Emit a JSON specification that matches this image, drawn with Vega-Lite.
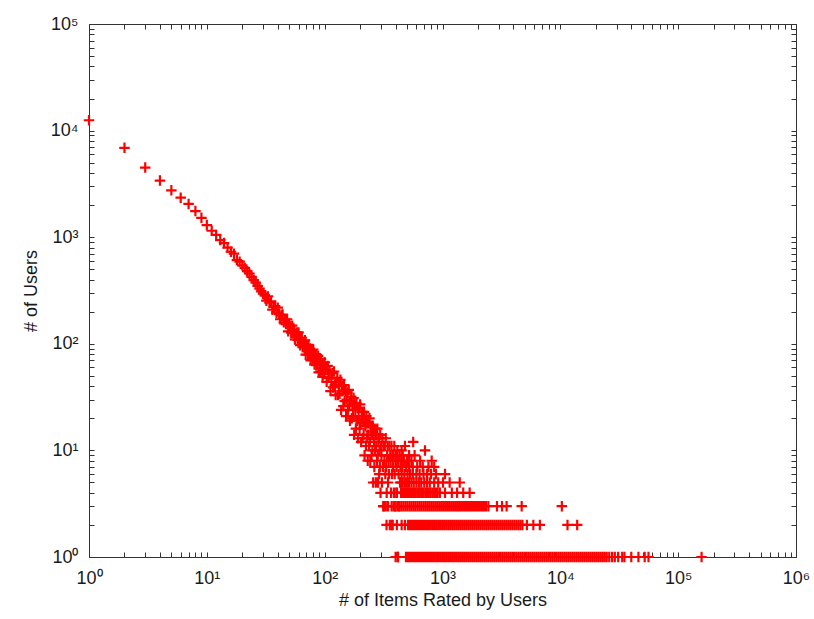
{
  "$schema": "https://vega.github.io/schema/vega-lite/v6.json",
  "width": 707,
  "height": 533,
  "autosize": {"type": "none"},
  "padding": {"left": 89, "top": 24, "right": 18, "bottom": 62},
  "background": "white",
  "config": {"view": {"stroke": null}, "font": "Liberation Sans"},
  "data": {"values": [
    {"x":1,"y":12500},{"x":2,"y":6900},{"x":3,"y":4500},{"x":4,"y":3400},{"x":5,"y":2750},{"x":6,"y":2350},{"x":7,"y":2050},{"x":8,"y":1760},{"x":9,"y":1520},{"x":10,"y":1300},
    {"x":11,"y":1150},{"x":12,"y":1050},{"x":13,"y":940},{"x":14,"y":880},{"x":15,"y":800},{"x":16,"y":730},{"x":17,"y":700},{"x":18,"y":610},{"x":19,"y":590},{"x":20,"y":545},
    {"x":21,"y":515},{"x":22,"y":480},{"x":23,"y":455},{"x":24,"y":425},{"x":25,"y":395},{"x":26,"y":375},{"x":27,"y":350},{"x":28,"y":330},{"x":29,"y":310},{"x":30,"y":295},
    {"x":31,"y":286},{"x":32,"y":254},{"x":33,"y":278},{"x":34,"y":243},{"x":35,"y":250},{"x":36,"y":209},{"x":37,"y":222},{"x":38,"y":226},{"x":39,"y":196},{"x":40,"y":218},
    {"x":41,"y":190},{"x":42,"y":170},{"x":43,"y":186},{"x":44,"y":188},{"x":45,"y":159},{"x":46,"y":168},{"x":47,"y":153},{"x":48,"y":170},{"x":49,"y":131},{"x":50,"y":154},
    {"x":51,"y":145},{"x":52,"y":127},{"x":53,"y":148},{"x":54,"y":127},{"x":55,"y":136},{"x":56,"y":110},{"x":57,"y":123},{"x":58,"y":128},{"x":59,"y":109},{"x":60,"y":128},
    {"x":61,"y":109},{"x":62,"y":97},{"x":63,"y":111},{"x":64,"y":114},{"x":65,"y":93},{"x":66,"y":103},{"x":67,"y":93},{"x":68,"y":108},{"x":69,"y":79},{"x":70,"y":98},
    {"x":71,"y":92},{"x":72,"y":79},{"x":73,"y":98},{"x":74,"y":82},{"x":75,"y":90},{"x":76,"y":70},{"x":77,"y":81},{"x":78,"y":87},{"x":79,"y":72},{"x":80,"y":88},
    {"x":81,"y":74},{"x":82,"y":64},{"x":83,"y":77},{"x":84,"y":80},{"x":85,"y":63},{"x":86,"y":72},{"x":87,"y":64},{"x":88,"y":77},{"x":89,"y":54},{"x":90,"y":70},
    {"x":91,"y":66},{"x":92,"y":55},{"x":93,"y":72},{"x":94,"y":59},{"x":95,"y":66},{"x":96,"y":49},{"x":97,"y":59},{"x":98,"y":64},{"x":99,"y":52},{"x":100,"y":67},
    {"x":102,"y":57},{"x":104,"y":44},{"x":106,"y":62},{"x":108,"y":48},{"x":110,"y":55},{"x":112,"y":36},{"x":114,"y":47},{"x":116,"y":53},{"x":118,"y":39},{"x":120,"y":55},
    {"x":122,"y":41},{"x":124,"y":33},{"x":126,"y":44},{"x":128,"y":48},{"x":130,"y":33},{"x":132,"y":41},{"x":134,"y":34},{"x":136,"y":46},{"x":138,"y":24},{"x":140,"y":40},
    {"x":142,"y":36},{"x":144,"y":26},{"x":146,"y":41},{"x":148,"y":29},{"x":150,"y":36},{"x":152,"y":21},{"x":154,"y":30},{"x":156,"y":35},{"x":158,"y":24},{"x":160,"y":37},
    {"x":162,"y":26},{"x":164,"y":19},{"x":166,"y":29},{"x":168,"y":32},{"x":170,"y":20},{"x":172,"y":27},{"x":174,"y":21},{"x":176,"y":31},{"x":178,"y":14},{"x":180,"y":27},
    {"x":182,"y":24},{"x":184,"y":16},{"x":186,"y":28},{"x":188,"y":19},{"x":190,"y":25},{"x":192,"y":13},{"x":194,"y":20},{"x":196,"y":25},{"x":198,"y":16},{"x":200,"y":27},
    {"x":202,"y":18},{"x":204,"y":12},{"x":206,"y":21},{"x":208,"y":23},{"x":210,"y":13},{"x":212,"y":19},{"x":214,"y":14},{"x":216,"y":23},{"x":218,"y":9},{"x":220,"y":19},
    {"x":222,"y":17},{"x":224,"y":11},{"x":226,"y":21},{"x":228,"y":13},{"x":230,"y":18},{"x":232,"y":8},{"x":234,"y":14},{"x":236,"y":18},{"x":238,"y":11},{"x":240,"y":20},
    {"x":242,"y":12},{"x":244,"y":8},{"x":246,"y":15},{"x":248,"y":17},{"x":250,"y":9},{"x":252,"y":14},{"x":254,"y":10},{"x":256,"y":17},{"x":258,"y":5},{"x":260,"y":14},
    {"x":262,"y":12},{"x":264,"y":7},{"x":266,"y":16},{"x":268,"y":10},{"x":270,"y":14},{"x":272,"y":5},{"x":274,"y":11},{"x":276,"y":14},{"x":278,"y":8},{"x":280,"y":16},
    {"x":282,"y":9},{"x":284,"y":5},{"x":286,"y":12},{"x":288,"y":13},{"x":290,"y":6},{"x":292,"y":10},{"x":294,"y":7},{"x":296,"y":14},{"x":298,"y":4},{"x":300,"y":11},
    {"x":303,"y":9},{"x":306,"y":5},{"x":309,"y":13},{"x":312,"y":7},{"x":315,"y":11},{"x":318,"y":3},{"x":321,"y":8},{"x":324,"y":11},{"x":327,"y":6},{"x":330,"y":13},
    {"x":333,"y":7},{"x":336,"y":4},{"x":339,"y":9},{"x":342,"y":11},{"x":345,"y":5},{"x":348,"y":8},{"x":351,"y":6},{"x":354,"y":11},{"x":357,"y":2},{"x":360,"y":9},
    {"x":363,"y":8},{"x":366,"y":4},{"x":369,"y":11},{"x":372,"y":6},{"x":375,"y":9},{"x":378,"y":2},{"x":381,"y":7},{"x":384,"y":9},{"x":387,"y":4},{"x":390,"y":11},
    {"x":393,"y":6},{"x":396,"y":3},{"x":399,"y":8},{"x":402,"y":9},{"x":405,"y":4},{"x":408,"y":7},{"x":411,"y":4},{"x":414,"y":10},{"x":417,"y":1},{"x":420,"y":8},
    {"x":424,"y":6},{"x":428,"y":3},{"x":432,"y":9},{"x":436,"y":5},{"x":440,"y":7},
    {"x":445,"y":4},{"x":455,"y":4},{"x":470,"y":4},{"x":480,"y":4},{"x":495,"y":4},{"x":510,"y":4},{"x":525,"y":4},{"x":540,"y":4},{"x":560,"y":4},{"x":575,"y":4},
    {"x":590,"y":4},{"x":610,"y":4},{"x":630,"y":4},{"x":650,"y":4},{"x":670,"y":4},{"x":690,"y":4},{"x":715,"y":4},{"x":740,"y":4},{"x":765,"y":4},{"x":790,"y":4},
    {"x":820,"y":4},{"x":850,"y":4},{"x":880,"y":4},{"x":910,"y":4},{"x":950,"y":4},{"x":1050,"y":4},{"x":1200,"y":4},{"x":1330,"y":4},{"x":1500,"y":4},{"x":1700,"y":4},
    {"x":445,"y":5},{"x":460,"y":5},{"x":480,"y":5},{"x":500,"y":5},{"x":520,"y":5},{"x":545,"y":5},{"x":570,"y":5},{"x":600,"y":5},{"x":630,"y":5},{"x":660,"y":5},
    {"x":700,"y":5},{"x":740,"y":5},{"x":780,"y":5},{"x":850,"y":5},{"x":920,"y":5},{"x":1010,"y":5},{"x":1150,"y":5},{"x":1400,"y":5},
    {"x":450,"y":6},{"x":475,"y":6},{"x":505,"y":6},{"x":530,"y":6},{"x":560,"y":6},{"x":600,"y":6},{"x":640,"y":6},{"x":690,"y":6},{"x":740,"y":6},{"x":800,"y":6},{"x":880,"y":6},{"x":1050,"y":6},
    {"x":455,"y":7},{"x":490,"y":7},{"x":520,"y":7},{"x":560,"y":7},{"x":610,"y":7},{"x":680,"y":7},{"x":760,"y":7},{"x":850,"y":7},
    {"x":447,"y":8},{"x":470,"y":8},{"x":500,"y":8},{"x":545,"y":8},{"x":646,"y":8},{"x":810,"y":8},
    {"x":460,"y":9},{"x":520,"y":9},{"x":580,"y":9},{"x":450,"y":10},{"x":710,"y":10},{"x":480,"y":11},{"x":564,"y":12},
    {"x":314,"y":3},{"x":330,"y":3},{"x":345,"y":3},
    {"x":370,"y":3},{"x":385,"y":3},{"x":400,"y":3},{"x":416,"y":3},{"x":433,"y":3},{"x":450,"y":3},{"x":468,"y":3},{"x":487,"y":3},{"x":506,"y":3},{"x":527,"y":3},
    {"x":548,"y":3},{"x":570,"y":3},{"x":592,"y":3},{"x":616,"y":3},{"x":641,"y":3},{"x":666,"y":3},{"x":693,"y":3},{"x":721,"y":3},{"x":750,"y":3},{"x":780,"y":3},
    {"x":811,"y":3},{"x":843,"y":3},{"x":877,"y":3},{"x":912,"y":3},{"x":949,"y":3},{"x":987,"y":3},{"x":1026,"y":3},{"x":1067,"y":3},{"x":1110,"y":3},{"x":1154,"y":3},
    {"x":1200,"y":3},{"x":1248,"y":3},{"x":1298,"y":3},{"x":1350,"y":3},{"x":1404,"y":3},{"x":1460,"y":3},{"x":1519,"y":3},{"x":1580,"y":3},{"x":1643,"y":3},{"x":1709,"y":3},
    {"x":1777,"y":3},{"x":1848,"y":3},{"x":1922,"y":3},{"x":1999,"y":3},{"x":2079,"y":3},{"x":2162,"y":3},{"x":2249,"y":3},{"x":2339,"y":3},
    {"x":2450,"y":3},{"x":2900,"y":3},{"x":3200,"y":3},{"x":3500,"y":3},{"x":4700,"y":3},{"x":10300,"y":3},
    {"x":335,"y":2},{"x":370,"y":2},{"x":410,"y":2},{"x":450,"y":2},{"x":480,"y":2},
    {"x":510,"y":2},{"x":530,"y":2},{"x":552,"y":2},{"x":574,"y":2},{"x":597,"y":2},{"x":621,"y":2},{"x":645,"y":2},{"x":671,"y":2},{"x":698,"y":2},{"x":726,"y":2},
    {"x":755,"y":2},{"x":785,"y":2},{"x":817,"y":2},{"x":849,"y":2},{"x":883,"y":2},{"x":919,"y":2},{"x":955,"y":2},{"x":994,"y":2},{"x":1033,"y":2},{"x":1075,"y":2},
    {"x":1118,"y":2},{"x":1162,"y":2},{"x":1209,"y":2},{"x":1257,"y":2},{"x":1308,"y":2},{"x":1360,"y":2},{"x":1414,"y":2},{"x":1471,"y":2},{"x":1530,"y":2},{"x":1591,"y":2},
    {"x":1655,"y":2},{"x":1721,"y":2},{"x":1790,"y":2},{"x":1861,"y":2},{"x":1936,"y":2},{"x":2013,"y":2},{"x":2094,"y":2},{"x":2177,"y":2},{"x":2264,"y":2},{"x":2355,"y":2},
    {"x":2449,"y":2},{"x":2547,"y":2},{"x":2649,"y":2},{"x":2755,"y":2},{"x":2865,"y":2},{"x":2980,"y":2},{"x":3099,"y":2},{"x":3223,"y":2},{"x":3352,"y":2},{"x":3486,"y":2},
    {"x":3625,"y":2},{"x":3770,"y":2},{"x":3921,"y":2},{"x":4078,"y":2},{"x":4241,"y":2},{"x":4411,"y":2},{"x":4587,"y":2},{"x":4771,"y":2},
    {"x":5200,"y":2},{"x":5900,"y":2},{"x":6700,"y":2},{"x":11500,"y":2},{"x":13900,"y":2},
    {"x":400,"y":1},{"x":420,"y":1},
    {"x":490,"y":1},{"x":510,"y":1},{"x":530,"y":1},{"x":551,"y":1},{"x":573,"y":1},{"x":596,"y":1},{"x":620,"y":1},{"x":645,"y":1},{"x":671,"y":1},{"x":697,"y":1},
    {"x":725,"y":1},{"x":754,"y":1},{"x":785,"y":1},{"x":816,"y":1},{"x":849,"y":1},{"x":883,"y":1},{"x":918,"y":1},{"x":955,"y":1},{"x":993,"y":1},{"x":1032,"y":1},
    {"x":1074,"y":1},{"x":1117,"y":1},{"x":1161,"y":1},{"x":1208,"y":1},{"x":1256,"y":1},{"x":1306,"y":1},{"x":1359,"y":1},{"x":1413,"y":1},{"x":1469,"y":1},{"x":1528,"y":1},
    {"x":1589,"y":1},{"x":1653,"y":1},{"x":1719,"y":1},{"x":1788,"y":1},{"x":1859,"y":1},{"x":1934,"y":1},{"x":2011,"y":1},{"x":2091,"y":1},{"x":2175,"y":1},{"x":2262,"y":1},
    {"x":2353,"y":1},{"x":2447,"y":1},{"x":2545,"y":1},{"x":2646,"y":1},{"x":2752,"y":1},{"x":2862,"y":1},{"x":2977,"y":1},{"x":3096,"y":1},{"x":3220,"y":1},{"x":3348,"y":1},
    {"x":3482,"y":1},{"x":3622,"y":1},{"x":3767,"y":1},{"x":3917,"y":1},{"x":4074,"y":1},{"x":4237,"y":1},{"x":4406,"y":1},{"x":4583,"y":1},{"x":4766,"y":1},{"x":4957,"y":1},
    {"x":5155,"y":1},{"x":5361,"y":1},{"x":5575,"y":1},{"x":5798,"y":1},{"x":6030,"y":1},{"x":6272,"y":1},{"x":6523,"y":1},{"x":6783,"y":1},{"x":7055,"y":1},{"x":7337,"y":1},
    {"x":7630,"y":1},{"x":7936,"y":1},{"x":8253,"y":1},{"x":8583,"y":1},{"x":8927,"y":1},{"x":9284,"y":1},{"x":9655,"y":1},{"x":10041,"y":1},{"x":10443,"y":1},{"x":10860,"y":1},
    {"x":11295,"y":1},{"x":11747,"y":1},{"x":12217,"y":1},{"x":12705,"y":1},{"x":13213,"y":1},{"x":13742,"y":1},{"x":14292,"y":1},{"x":14863,"y":1},{"x":15458,"y":1},{"x":16076,"y":1},
    {"x":16719,"y":1},{"x":17388,"y":1},{"x":18083,"y":1},{"x":18807,"y":1},{"x":19559,"y":1},{"x":20341,"y":1},{"x":21155,"y":1},{"x":22001,"y":1},{"x":22881,"y":1},{"x":23797,"y":1},
    {"x":24749,"y":1},{"x":26000,"y":1},{"x":27500,"y":1},{"x":29000,"y":1},{"x":31000,"y":1},{"x":33500,"y":1},{"x":35000,"y":1},
    {"x":40000,"y":1},{"x":46000,"y":1},{"x":52000,"y":1},{"x":56000,"y":1},{"x":158000,"y":1}
  ]},
  "layer": [
    {
      "mark": {"type": "point", "shape": "M-1,0H1M0,-1V1", "size": 110, "filled": false, "stroke": "#ff0000", "strokeWidth": 2.2, "opacity": 1},
      "encoding": {
        "x": {"field": "x", "type": "quantitative",
          "scale": {"type": "log", "domain": [1, 1000000], "nice": false},
          "axis": {"orient": "bottom", "grid": false,
            "values": [1,2,3,4,5,6,7,8,9,10,20,30,40,50,60,70,80,90,100,200,300,400,500,600,700,800,900,1000,2000,3000,4000,5000,6000,7000,8000,9000,10000,20000,30000,40000,50000,60000,70000,80000,90000,100000,200000,300000,400000,500000,600000,700000,800000,900000,1000000],
            "labelExpr": "datum.value == 1 ? '10⁰' : datum.value == 10 ? '10¹' : datum.value == 100 ? '10²' : datum.value == 1000 ? '10³' : datum.value == 10000 ? '10⁴' : datum.value == 100000 ? '10⁵' : datum.value == 1000000 ? '10⁶' : ''",
            "labelFlush": false, "labelOverlap": false, "labelFontSize": 18, "labelColor": "#1a1a1a", "labelPadding": 17,
            "tickSize": -5, "tickColor": "#333", "domainColor": "#333",
            "title": "# of Items Rated by Users", "titleFontSize": 18, "titleFontWeight": "normal", "titleColor": "#1a1a1a", "titlePadding": 4}},
        "y": {"field": "y", "type": "quantitative",
          "scale": {"type": "log", "domain": [1, 100000], "nice": false},
          "axis": {"orient": "left", "grid": false,
            "values": [1,2,3,4,5,6,7,8,9,10,20,30,40,50,60,70,80,90,100,200,300,400,500,600,700,800,900,1000,2000,3000,4000,5000,6000,7000,8000,9000,10000,20000,30000,40000,50000,60000,70000,80000,90000,100000],
            "labelExpr": "datum.value == 1 ? '10⁰' : datum.value == 10 ? '10¹' : datum.value == 100 ? '10²' : datum.value == 1000 ? '10³' : datum.value == 10000 ? '10⁴' : datum.value == 100000 ? '10⁵' : ''",
            "labelFlush": false, "labelOverlap": false, "labelFontSize": 18, "labelColor": "#1a1a1a", "labelPadding": 16,
            "tickSize": -5, "tickColor": "#333", "domainColor": "#333",
            "title": "# of Users", "titleFontSize": 18, "titleFontWeight": "normal", "titleColor": "#1a1a1a", "titlePadding": 10}}
      }
    },
    {
      "mark": {"type": "point", "opacity": 0},
      "encoding": {
        "x": {"field": "x", "type": "quantitative",
          "scale": {"type": "log", "domain": [1, 1000000], "nice": false},
          "axis": {"orient": "top", "grid": false, "labels": false, "title": null,
            "values": [1,2,3,4,5,6,7,8,9,10,20,30,40,50,60,70,80,90,100,200,300,400,500,600,700,800,900,1000,2000,3000,4000,5000,6000,7000,8000,9000,10000,20000,30000,40000,50000,60000,70000,80000,90000,100000,200000,300000,400000,500000,600000,700000,800000,900000,1000000],
            "tickSize": -5, "tickColor": "#333", "domainColor": "#333"}},
        "y": {"field": "y", "type": "quantitative",
          "scale": {"type": "log", "domain": [1, 100000], "nice": false},
          "axis": {"orient": "right", "grid": false, "labels": false, "title": null,
            "values": [1,2,3,4,5,6,7,8,9,10,20,30,40,50,60,70,80,90,100,200,300,400,500,600,700,800,900,1000,2000,3000,4000,5000,6000,7000,8000,9000,10000,20000,30000,40000,50000,60000,70000,80000,90000,100000],
            "tickSize": -5, "tickColor": "#333", "domainColor": "#333"}}
      }
    }
  ],
  "resolve": {"axis": {"x": "independent", "y": "independent"}}
}
